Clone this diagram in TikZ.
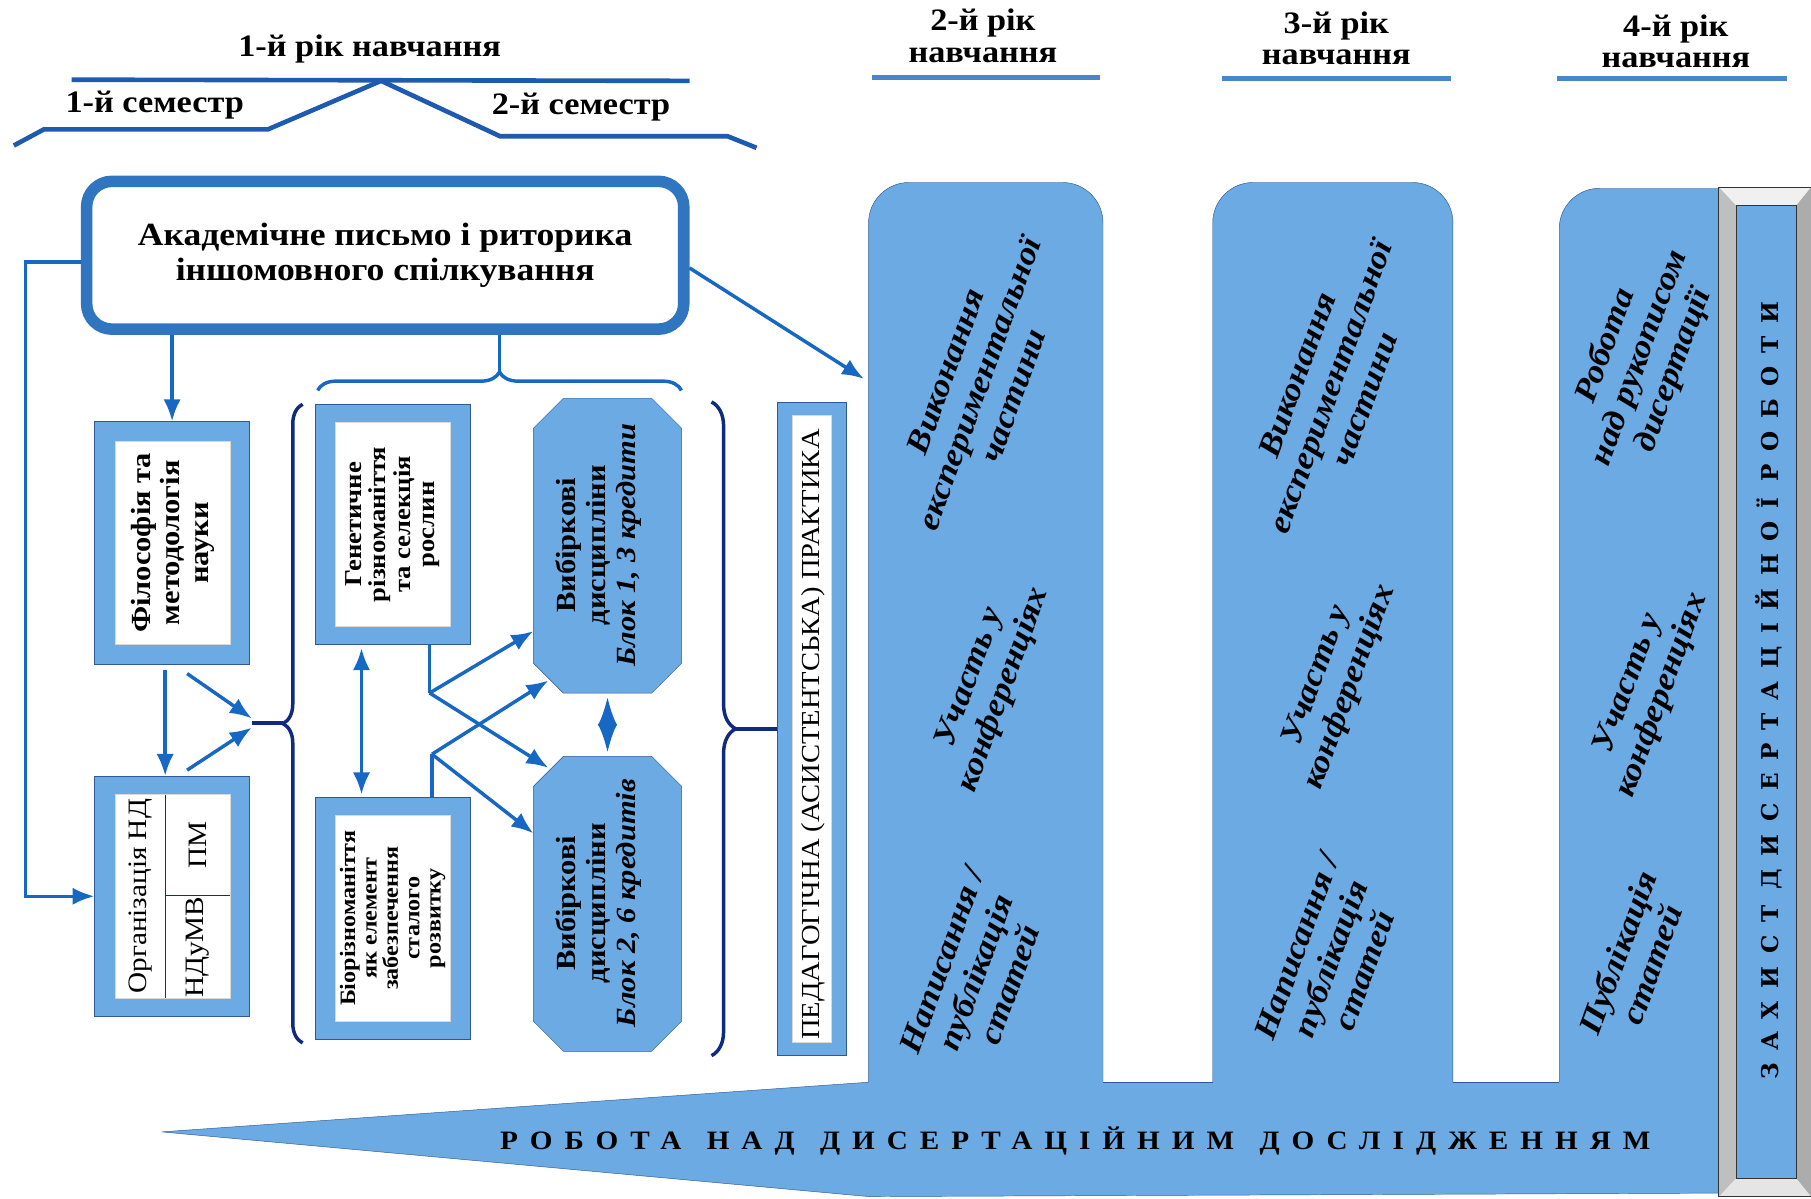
\documentclass[tikz,border=0pt]{standalone}
\usepackage{fontspec}
\setmainfont{Liberation Serif}[FakeStretch=1.1]
\newfontfamily\zfont{DejaVu Serif}
\usetikzlibrary{arrows.meta}
\usetikzlibrary{decorations.pathreplacing}
\definecolor{colfill}{RGB}{108,170,228}
\definecolor{coledge}{RGB}{45,90,150}
\definecolor{arrblue}{RGB}{22,104,196}
\definecolor{akadblue}{RGB}{47,117,192}
\definecolor{navy}{RGB}{16,42,128}
\definecolor{yrblue}{RGB}{72,133,201}
\definecolor{topblue}{RGB}{30,90,175}

\begin{document}
\begin{tikzpicture}[x=1pt,y=-1pt,
  hdr/.style={font=\bfseries\fontsize{27}{27}\selectfont,align=center,inner sep=0pt},
  outbox/.style={draw=coledge,thin,fill=colfill,inner sep=0pt},
  inbox/.style={draw=gray!30,fill=white,inner sep=0pt},
  vtxt/.style={rotate=90,align=center,inner sep=0pt},
  coltxt/.style={rotate=70,align=center,inner sep=0pt,font=\bfseries\itshape\fontsize{28}{31}\selectfont},
  vybbox/.style={minimum width=128pt,minimum height=255pt,inner sep=0pt},
  vybline/.style={draw=coledge,thin,fill=colfill},
  arr/.style={draw=arrblue,line width=3pt,-{Latex[length=19pt,width=15pt]}},
  darr/.style={draw=arrblue,line width=3pt,{Latex[length=19pt,width=15pt]}-{Latex[length=19pt,width=15pt]}},
  brc/.style={draw=navy,line width=3pt,decorate,decoration={brace,amplitude=#1,aspect=0.5}}]
\useasboundingbox (0,0) rectangle (1568,1038);

% years
\node[hdr] (rik1) at (320,42) {1-й рік навчання};
\draw[topblue,line width=4pt] (62,69) -- (597,70);
\draw[topblue,line width=4pt] (12,126) -- (38,112) -- (232,112) -- (330,70) -- (433,118) -- (630,118) -- (655,128);
\node[hdr] (sem1) at (134,91) {1-й семестр};
\node[hdr] (sem2) at (503,93) {2-й семестр};
\node[hdr] (rik2) at (851,31) {2-й рік\\навчання};
\node[hdr] (rik3) at (1157,33) {3-й рік\\навчання};
\node[hdr] (rik4) at (1451,36) {4-й рік\\навчання};
\draw[yrblue,line width=4pt] (755,67) -- (952,67);
\draw[yrblue,line width=4pt] (1058,68) -- (1256,68);
\draw[yrblue,line width=4pt] (1348,68) -- (1547,68);

% dissertation work
\fill[colfill,rounded corners=35] (752,1000) rectangle (955,158);
\fill[colfill,rounded corners=35] (1050,1000) rectangle (1258,158);
\fill[colfill,rounded corners=35] (1350,1000) rectangle (1520,163);
\fill[colfill] (140,980) -- (752,937) -- (1495,937) -- (1495,1033) -- (752,1036) -- cycle;
\draw[coledge,rounded corners=35] (752,937) -- (752,158) -- (955,158) -- (955,937);
\draw[coledge,rounded corners=35] (1050,937) -- (1050,158) -- (1258,158) -- (1258,937);
\draw[coledge,rounded corners=35] (1350,937) -- (1350,163) -- (1495,163);
\draw[coledge] (955,937) -- (1050,937) (1258,937) -- (1350,937);
\draw[coledge] (752,937) -- (140,980) -- (752,1036) -- (1490,1033);

\node[coltxt] (vyk2) at (848,332) {Виконання\\експериментальної\\частини};
\node[coltxt] (uch2) at (855,592) {Участь у\\конференціях};
\node[coltxt] (nap2) at (845,842) {Написання /\\публікація\\статей};
\node[coltxt] (vyk3) at (1152,335) {Виконання\\експериментальної\\частини};
\node[coltxt] (uch3) at (1155,590) {Участь у\\конференціях};
\node[coltxt] (nap3) at (1152,830) {Написання /\\публікація\\статей};
\node[coltxt] (rob4) at (1420,310) {Робота\\над рукописом\\дисертації};
\node[coltxt] (uch4) at (1425,597) {Участь у\\конференціях};
\node[coltxt] (pub4) at (1415,830) {Публікація\\статей};

\node[inner sep=0pt,font=\bfseries\fontsize{23}{23}\selectfont\addfontfeature{LetterSpace=45}] (robota) at (931,988)
  {РОБОТА\hspace{22pt}НАД\hspace{22pt}ДИСЕРТАЦІЙНИМ\hspace{22pt}ДОСЛІДЖЕННЯМ};

% defence frame
\fill[gray!65] (1488,162) rectangle (1568,1036);
\fill[gray!12] (1488,162) -- (1568,162) -- (1555,178) -- (1503,178) -- cycle;
\fill[gray!20] (1488,1036) -- (1568,1036) -- (1555,1020) -- (1503,1020) -- cycle;
\fill[gray!50] (1488,162) -- (1503,178) -- (1503,1020) -- (1488,1036) -- cycle;
\fill[colfill] (1503,178) rectangle (1555,1020);
\draw[gray!40!black,thin] (1488,162) rectangle (1568,1036) (1503,178) rectangle (1555,1020);
\node[vtxt,font=\zfont\bfseries\fontsize{20}{20}\selectfont\addfontfeature{LetterSpace=55}] (zakh) at (1531,598)
  {ЗАХИСТ\hspace{14pt}ДИСЕРТАЦІЙНОЇ\hspace{14pt}РОБОТИ};

% first year
\node[draw=akadblue,line width=10pt,rounded corners=22,fill=white,minimum width=517pt,minimum height=128pt,
  align=center,font=\bfseries\fontsize{28}{30}\selectfont] (akad) at (333.5,221)
  {Академічне письмо і риторика\\іншомовного спілкування};

\node[outbox,minimum width=134pt,minimum height=210pt] (fil) at (149,470) {};
\node[inbox,minimum width=99pt,minimum height=176pt] (filin) at (149.5,470) {};
\node[vtxt,font=\bfseries\fontsize{24}{25}\selectfont] (filt) at (149.5,470) {Філософія та\\методологія\\науки};

\node[outbox,minimum width=134pt,minimum height=208pt] (org) at (149,776) {};
\node[inbox,minimum width=99pt,minimum height=176pt] (orgin) at (149.5,776) {};
\draw[navy,thin] (143,688) -- (143,864) (143,775) -- (199,775);
\node[vtxt,font=\fontsize{23}{23}\selectfont] (orgt) at (122,776) {Організація НД};
\node[vtxt,font=\fontsize{23}{23}\selectfont] (pm) at (171,732) {ПМ};
\node[vtxt,font=\fontsize{23}{23}\selectfont] (nd) at (171,820) {НДуМВ};

\node[outbox,minimum width=134pt,minimum height=208pt] (gen) at (340,454) {};
\node[inbox,minimum width=100pt,minimum height=176pt] (genin) at (340,454) {};
\node[vtxt,font=\bfseries\fontsize{21}{21}\selectfont] (gent) at (340,454) {Генетичне\\різноманіття\\та селекція\\рослин};

\node[outbox,minimum width=134pt,minimum height=210pt] (bio) at (340,795) {};
\node[inbox,minimum width=100pt,minimum height=178pt] (bioin) at (340,795) {};
\node[vtxt,font=\bfseries\fontsize{19}{18.5}\selectfont] (biot) at (340,795) {Біорізноманіття\\як елемент\\забезпечення\\сталого\\розвитку};

\node[vybbox] (vyb1) at (526,472.5) {};
\draw[vybline] ([xshift=26pt]vyb1.north west) -- ([xshift=-26pt]vyb1.north east) -- ([yshift=-26pt]vyb1.north east)
  -- ([yshift=26pt]vyb1.south east) -- ([xshift=-26pt]vyb1.south east) -- ([xshift=26pt]vyb1.south west)
  -- ([yshift=26pt]vyb1.south west) -- ([yshift=-26pt]vyb1.north west) -- cycle;
\node[vtxt,font=\bfseries\fontsize{24}{26}\selectfont] (vyb1t) at (518,472) {Вибіркові\\дисципліни\\\textit{Блок 1, 3 кредити}};
\node[vybbox] (vyb2) at (526,782.5) {};
\draw[vybline] ([xshift=26pt]vyb2.north west) -- ([xshift=-26pt]vyb2.north east) -- ([yshift=-26pt]vyb2.north east)
  -- ([yshift=26pt]vyb2.south east) -- ([xshift=-26pt]vyb2.south east) -- ([xshift=26pt]vyb2.south west)
  -- ([yshift=26pt]vyb2.south west) -- ([yshift=-26pt]vyb2.north west) -- cycle;
\node[vtxt,font=\bfseries\fontsize{24}{26}\selectfont] (vyb2t) at (518,782) {Вибіркові\\дисципліни\\\textit{Блок 2, 6 кредитів}};

\node[outbox,minimum width=60pt,minimum height=566pt] (ped) at (703,631) {};
\node[inbox,minimum width=34pt,minimum height=543pt] (pedin) at (703,631) {};
\node[vtxt,font=\fontsize{22.5}{22.5}\selectfont] (pedt) at (704,636) {ПЕДАГОГІЧНА (АСИСТЕНТСЬКА) ПРАКТИКА};

% braces
\coordinate (jl) at (218,626);
\draw[brc=17pt] (262,903) -- (262,350);
\draw[navy,line width=4pt] (jl) -- (245,626);
\draw[brc=21pt] (616,348) -- (616,914);
\draw[navy,line width=3pt] (637,631) -- (ped.west);
\draw[arrblue,line width=3pt,decorate,decoration={brace,amplitude=16pt,aspect=0.5}] (275,338) -- (590,338);
\draw[arrblue,line width=3pt] (akad.south -| 432.5,0) -- (432.5,322);

% connectors
\coordinate (lc) at (22,227);
\coordinate (c2in) at (748,328);
\draw[arr] ([yshift=-6pt]akad.west) -- (lc) |- (org.west);
\draw[arr] ([yshift=-11pt]akad.east) -- (c2in);
\draw[arr] (akad.south -| fil.north) -- (fil.north);
\draw[arr] ([xshift=-6pt,yshift=-5pt]fil.south) -- ([xshift=-6pt]org.north);
\draw[arr] ([xshift=13pt,yshift=-8pt]fil.south) -- ([yshift=4pt]jl);
\draw[arr] ([xshift=13pt,yshift=5pt]org.north) -- ([yshift=-4pt]jl);
\draw[darr] ([xshift=-27pt,yshift=-3pt]gen.south) -- ([xshift=-27pt,yshift=2pt]bio.north);
\coordinate (xg) at (372,600);
\coordinate (xb) at (374,653);
\draw[arrblue,line width=3pt] ([xshift=32pt]gen.south) -- (xg);
\draw[arrblue,line width=3pt] ([xshift=34pt]bio.north) -- (xb);
\draw[arr] (xg) -- ([yshift=-74pt]vyb1.west);
\draw[arr] (xg) -- ([xshift=13pt,yshift=-10pt]vyb2.north west);
\draw[arr] (xb) -- ([xshift=13pt,yshift=11pt]vyb1.south west);
\draw[arr] (xb) -- ([yshift=61pt]vyb2.west);
\draw[draw=arrblue,line width=3pt,{Latex[length=25pt,width=17pt]}-{Latex[length=25pt,width=17pt]}]
  ([yshift=-3pt]vyb1.south) -- ([yshift=3pt]vyb2.north);

\end{tikzpicture}
\end{document}
